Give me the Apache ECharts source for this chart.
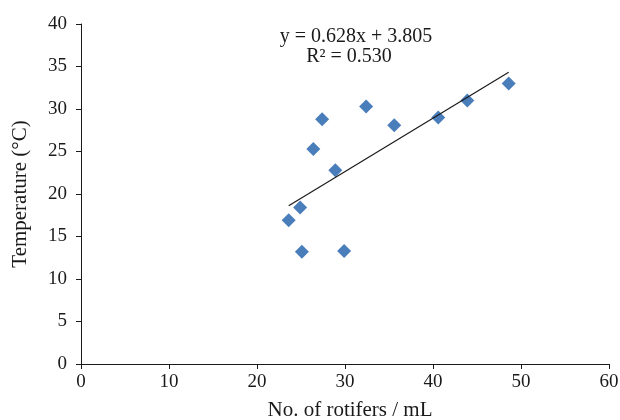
<!DOCTYPE html>
<html>
<head>
<meta charset="utf-8">
<script src="https://cdn.jsdelivr.net/npm/echarts@6/dist/echarts.min.js"></script>
<style>
  html, body { margin: 0; padding: 0; background: #fff; }
  #chart { width: 620px; height: 420px; }
</style>
</head>
<body>
<div id="chart"></div>
<script>
// rotifer counts vs temperature
var rotifers = [23.6, 24.9, 25.1, 26.4, 27.4, 28.9, 29.9, 32.4, 35.6, 40.6, 43.9, 48.6];
var temperature = [16.9, 18.4, 13.2, 25.3, 28.8, 22.8, 13.3, 30.3, 28.1, 29.0, 31.0, 33.0];
// linear trendline as printed on the chart
var slope = 0.628;
var intercept = 3.805;

var points = rotifers.map(function (x, i) { return [x, temperature[i]]; });
var xMin = Math.min.apply(null, rotifers);
var xMax = Math.max.apply(null, rotifers);
var trend = [[xMin, slope * xMin + intercept], [xMax, slope * xMax + intercept]];

var font = '"Liberation Serif", "DejaVu Serif", serif';
var chart = echarts.init(document.getElementById('chart'));

var option = {
    animation: false,
    grid: { left: 81, right: 11, top: 24, bottom: 56, outerBoundsMode: 'none' },
    xAxis: {
        type: 'value',
        min: 0, max: 60, interval: 10,
        name: 'No. of rotifers / mL',
        nameLocation: 'middle',
        nameGap: 36,
        nameTextStyle: { fontFamily: font, fontSize: 21, color: '#1a1a1a', padding: [0, 0, 0, 10] },
        axisLine: { lineStyle: { color: '#1a1a1a', width: 1 } },
        axisTick: { show: true, length: 5, lineStyle: { color: '#1a1a1a' } },
        axisLabel: { fontFamily: font, fontSize: 19, color: '#1a1a1a', margin: 9 },
        splitLine: { show: false }
    },
    yAxis: {
        type: 'value',
        min: 0, max: 40, interval: 5,
        name: 'Temperature (°C)',
        nameLocation: 'middle',
        nameGap: 50,
        nameTextStyle: { fontFamily: font, fontSize: 21, color: '#1a1a1a' },
        axisLine: { show: true, lineStyle: { color: '#1a1a1a', width: 1 } },
        axisTick: { show: true, length: 5, lineStyle: { color: '#1a1a1a' } },
        axisLabel: { fontFamily: font, fontSize: 19, color: '#1a1a1a', margin: 14 },
        splitLine: { show: false }
    },
    graphic: [
        {
            type: 'text', x: 356, y: 37,
            style: { text: 'y = 0.628x + 3.805', fontFamily: font, fontSize: 20, fill: '#1a1a1a',
                     align: 'center', verticalAlign: 'middle' }
        },
        {
            type: 'text', x: 349, y: 57,
            style: { text: 'R² = 0.530', fontFamily: font, fontSize: 20, fill: '#1a1a1a',
                     align: 'center', verticalAlign: 'middle' }
        }
    ],
    series: [
        {
            type: 'line',
            data: trend,
            symbol: 'none',
            lineStyle: { color: '#1a1a1a', width: 1.2 },
            z: 3
        },
        {
            type: 'scatter',
            data: points,
            symbol: 'diamond',
            symbolSize: [14, 14],
            itemStyle: { color: '#4a7ebb', opacity: 1 },
            z: 2
        }
    ]
};
chart.setOption(option);
</script>
</body>
</html>
